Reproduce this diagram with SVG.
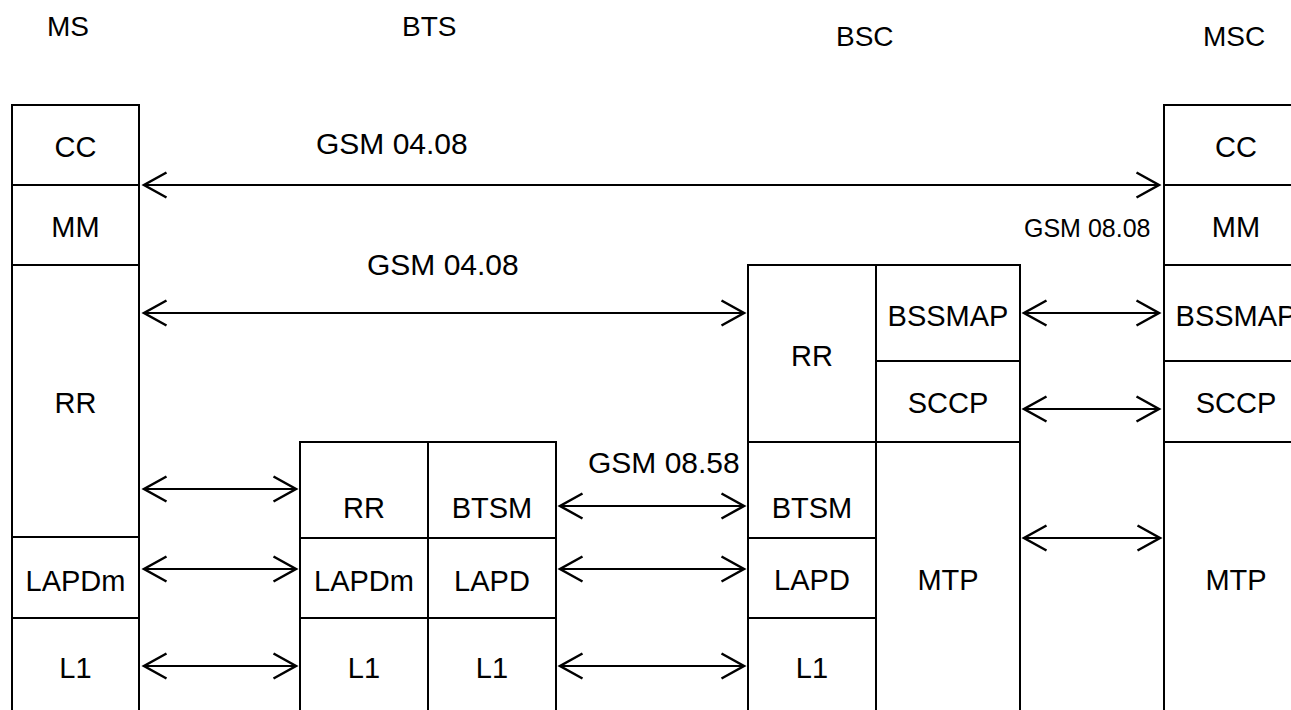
<svg xmlns="http://www.w3.org/2000/svg" width="1291" height="710" viewBox="0 0 1291 710">
<style>
text{font-family:"Liberation Sans",Arial,sans-serif;fill:#000}
.t{font-size:29px;text-anchor:middle}
.h{font-size:28px}
.l{font-size:30px}
.s{font-size:25px}
.box{fill:#fff;stroke:#000;stroke-width:2}
.div{stroke:#000;stroke-width:2}
.arr{stroke:#000;stroke-width:2;fill:none;marker-start:url(#ah);marker-end:url(#ah)}
</style>
<defs>
<marker id="ah" markerUnits="userSpaceOnUse" markerWidth="30" markerHeight="30" viewBox="-20 -12 22 24" refX="0" refY="0" orient="auto-start-reverse">
<path d="M -18 -10 L 0 0 L -18 10" fill="none" stroke="#000" stroke-width="2"/>
</marker>
</defs>
<rect width="1291" height="710" fill="#fff"/>
<g id="headers">
<text class="h" x="47" y="36">MS</text>
<text class="h" x="402" y="36">BTS</text>
<text class="h" x="836" y="46">BSC</text>
<text class="h" x="1203" y="46">MSC</text>
</g>
<g id="MS">
<rect class="box" x="12" y="105" width="127" height="620"/>
<line class="div" x1="12" y1="185" x2="139" y2="185"/>
<line class="div" x1="12" y1="265" x2="139" y2="265"/>
<line class="div" x1="12" y1="537" x2="139" y2="537"/>
<line class="div" x1="12" y1="618" x2="139" y2="618"/>
<text class="t" x="75.5" y="157">CC</text>
<text class="t" x="75.5" y="237">MM</text>
<text class="t" x="75.5" y="413">RR</text>
<text class="t" x="75.5" y="591">LAPDm</text>
<text class="t" x="75.5" y="678">L1</text>
</g>
<g id="BTS">
<rect class="box" x="300" y="442" width="256" height="280"/>
<line class="div" x1="428" y1="442" x2="428" y2="722"/>
<line class="div" x1="300" y1="538" x2="556" y2="538"/>
<line class="div" x1="300" y1="618" x2="556" y2="618"/>
<text class="t" x="364" y="518">RR</text>
<text class="t" x="492" y="518">BTSM</text>
<text class="t" x="364" y="591">LAPDm</text>
<text class="t" x="492" y="591">LAPD</text>
<text class="t" x="364" y="678">L1</text>
<text class="t" x="492" y="678">L1</text>
</g>
<g id="BSC">
<rect class="box" x="748" y="265" width="272" height="460"/>
<line class="div" x1="876" y1="265" x2="876" y2="725"/>
<line class="div" x1="876" y1="361" x2="1020" y2="361"/>
<line class="div" x1="748" y1="442" x2="1020" y2="442"/>
<line class="div" x1="748" y1="538" x2="876" y2="538"/>
<line class="div" x1="748" y1="618" x2="876" y2="618"/>
<text class="t" x="812" y="366">RR</text>
<text class="t" x="948" y="326">BSSMAP</text>
<text class="t" x="948" y="413">SCCP</text>
<text class="t" x="812" y="518">BTSM</text>
<text class="t" x="812" y="590">LAPD</text>
<text class="t" x="812" y="678">L1</text>
<text class="t" x="948" y="590">MTP</text>
</g>
<g id="MSC">
<rect class="box" x="1164" y="105" width="144" height="620"/>
<line class="div" x1="1164" y1="185" x2="1308" y2="185"/>
<line class="div" x1="1164" y1="265" x2="1308" y2="265"/>
<line class="div" x1="1164" y1="361" x2="1308" y2="361"/>
<line class="div" x1="1164" y1="442" x2="1308" y2="442"/>
<text class="t" x="1236" y="157">CC</text>
<text class="t" x="1236" y="237">MM</text>
<text class="t" x="1236" y="326">BSSMAP</text>
<text class="t" x="1236" y="413">SCCP</text>
<text class="t" x="1236" y="590">MTP</text>
</g>
<g id="connectors">
<line class="arr" x1="144" y1="185" x2="1159" y2="185"/>
<line class="arr" x1="144" y1="313" x2="744" y2="313"/>
<line class="arr" x1="1024" y1="313" x2="1159" y2="313"/>
<line class="arr" x1="1024" y1="409" x2="1159" y2="409"/>
<line class="arr" x1="1024" y1="538" x2="1160" y2="538"/>
<line class="arr" x1="144" y1="489" x2="296" y2="489"/>
<line class="arr" x1="144" y1="569" x2="296" y2="569"/>
<line class="arr" x1="144" y1="666" x2="296" y2="666"/>
<line class="arr" x1="560" y1="506" x2="744" y2="506"/>
<line class="arr" x1="560" y1="569" x2="744" y2="569"/>
<line class="arr" x1="560" y1="666" x2="744" y2="666"/>
</g>
<g id="labels">
<text class="l" x="316" y="154">GSM 04.08</text>
<text class="l" x="367" y="275">GSM 04.08</text>
<text class="l" x="588" y="473">GSM 08.58</text>
<text class="s" x="1024" y="237">GSM 08.08</text>
</g>
</svg>
